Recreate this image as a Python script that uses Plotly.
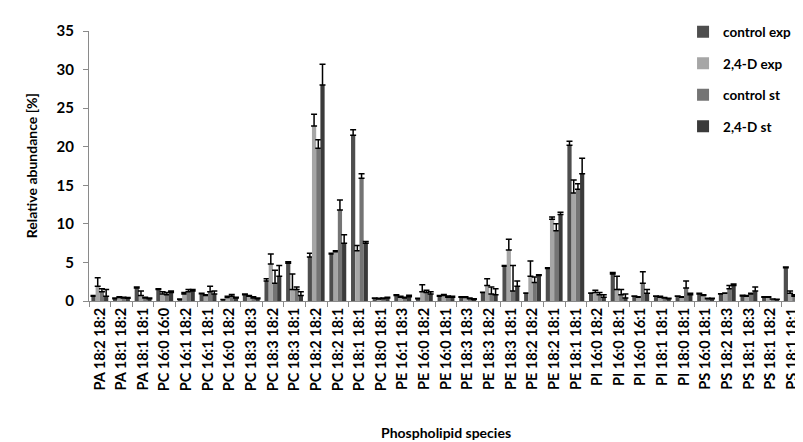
import plotly.graph_objects as go

categories = ["PA 18:2 18:2", "PA 18:1 18:2", "PA 18:1 18:1", "PC 16:0 16:0", "PC 16:1 18:2",
              "PC 16:1 18:1", "PC 16:0 18:2", "PC 18:3 18:3", "PC 18:3 18:2", "PC 18:3 18:1",
              "PC 18:2 18:2", "PC 18:2 18:1", "PC 18:1 18:1", "PC 18:0 18:1", "PE 16:1 18:3",
              "PE 16:0 18:2", "PE 16:0 18:1", "PE 18:3 18:3", "PE 18:3 18:2", "PE 18:3 18:1",
              "PE 18:2 18:2", "PE 18:2 18:1", "PE 18:1 18:1", "PI 16:0 18:2", "PI 16:0 18:1",
              "PI 16:0 16:1", "PI 18:1 18:1", "PI 18:0 18:1", "PS 16:0 18:1", "PS 18:2 18:3",
              "PS 18:1 18:3", "PS 18:1 18:2", "PS 18:1 18:1"]

control_exp = [0.6, 0.3, 1.7, 1.5, 0.2, 0.95, 0.15, 0.8, 2.6, 4.9, 5.7, 6.1, 21.5, 0.35, 0.7, 0.3, 0.6,
               0.5, 1.1, 4.5, 1.0, 4.2, 20.2, 1.0, 3.5, 0.6, 0.6, 0.6, 0.9, 0.9, 0.65, 0.5, 4.3]
control_exp_err = [0.1, 0.1, 0.1, 0.1, 0.05, 0.05, 0.05, 0.1, 0.3, 0.2, 0.5, 0.1, 0.7, 0.05, 0.1, 0.05, 0.1,
                   0.05, 0.05, 0.1, 0.05, 0.1, 0.5, 0.05, 0.2, 0.05, 0.05, 0.05, 0.1, 0.05, 0.1, 0.05, 0.1]

d_exp = [1.9, 0.45, 0.7, 0.9, 0.9, 0.7, 0.45, 0.6, 4.8, 1.5, 22.7, 6.4, 6.5, 0.25, 0.5, 1.2, 0.7,
         0.45, 2.0, 6.6, 3.2, 10.6, 14.0, 1.1, 1.5, 0.5, 0.5, 0.5, 0.7, 1.0, 0.6, 0.5, 1.0]
d_exp_err = [1.1, 0.1, 0.6, 0.3, 0.2, 0.1, 0.15, 0.1, 1.3, 2.0, 1.5, 0.1, 0.7, 0.1, 0.1, 0.9, 0.15,
             0.1, 0.9, 1.4, 2.0, 0.3, 1.7, 0.3, 1.7, 0.05, 0.1, 0.05, 0.1, 0.05, 0.1, 0.05, 0.3]

control_st = [1.2, 0.4, 0.4, 0.8, 1.2, 1.2, 0.6, 0.4, 2.3, 1.5, 19.8, 11.8, 15.9, 0.3, 0.4, 1.1, 0.5,
              0.3, 0.9, 1.3, 2.4, 9.1, 14.5, 0.8, 0.8, 2.3, 0.4, 1.7, 0.3, 1.6, 0.9, 0.25, 0.6]
control_st_err = [0.4, 0.1, 0.1, 0.3, 0.3, 0.7, 0.25, 0.15, 1.7, 0.3, 1.1, 1.3, 0.6, 0.1, 0.1, 0.3, 0.15,
                  0.1, 0.9, 3.3, 0.7, 0.9, 0.7, 0.3, 0.7, 1.5, 0.05, 0.9, 0.05, 0.4, 0.1, 0.02, 0.2]

d_st = [0.6, 0.35, 0.3, 1.1, 1.3, 0.9, 0.4, 0.3, 3.2, 0.7, 28.0, 7.5, 7.5, 0.4, 0.55, 0.9, 0.5,
        0.2, 0.8, 1.9, 3.3, 11.2, 16.5, 0.5, 0.4, 1.0, 0.3, 0.8, 0.3, 2.0, 1.3, 0.2, 0.4]
d_st_err = [0.9, 0.1, 0.1, 0.2, 0.2, 0.4, 0.1, 0.1, 1.4, 0.5, 2.7, 1.1, 0.2, 0.1, 0.2, 0.3, 0.1,
            0.1, 0.8, 0.7, 0.1, 0.3, 2.0, 0.3, 0.5, 0.5, 0.05, 0.2, 0.05, 0.2, 0.5, 0.02, 0.2]

series_names = ["control exp", "2,4-D exp", "control st", "2,4-D st"]
series_colors = ["#4e4e4e", "#a6a6a6", "#747474", "#3a3a3a"]
series_values = [control_exp, d_exp, control_st, d_st]
series_errors = [control_exp_err, d_exp_err, control_st_err, d_st_err]

FONT = "Lato"
fig = go.Figure()
for name, vals, errs, col in zip(series_names, series_values, series_errors, series_colors):
    fig.add_trace(go.Bar(
        x=categories, y=vals, name=name, legendgroup=name,
        marker=dict(color=col, line=dict(width=0)),
        error_y=dict(type="data", array=errs, arrayminus=[0] * len(errs), symmetric=False,
                     color="black", thickness=1.5, width=3),
    ))

axis_line = "#8a8a8a"
fig.update_layout(
    width=803, height=442,
    margin=dict(l=81, r=8, t=15, b=149),
    paper_bgcolor="white", plot_bgcolor="white",
    font=dict(family=FONT, color="black"),
    barmode="group", bargap=0.22, bargroupgap=0,
    showlegend=True,
    legend=dict(x=0.832, y=1.054, xanchor="left", yanchor="top",
                font=dict(family=FONT, size=13.5, weight="bold", color="black"),
                traceorder="grouped", tracegroupgap=11, bgcolor="rgba(0,0,0,0)"),
    xaxis=dict(showline=True, linecolor=axis_line, linewidth=1, ticks="outside",
               tickson="boundaries", ticklen=5, tickcolor=axis_line, tickangle=-90,
               tickfont=dict(family=FONT, size=14.5, weight="bold", color="black"),
               showgrid=False, zeroline=False),
    yaxis=dict(range=[0, 35], dtick=5, showline=True, linecolor=axis_line, linewidth=1,
               ticks="outside", ticklen=5, tickcolor=axis_line, ticklabelstandoff=6,
               tickfont=dict(family=FONT, size=15, weight="bold", color="black"),
               showgrid=False, zeroline=False),
    annotations=[
        dict(text="Relative abundance [%]", xref="paper", yref="paper", x=-0.081, y=0.5,
             xanchor="center", yanchor="middle", textangle=-90, showarrow=False,
             font=dict(family=FONT, size=14, weight="bold", color="black")),
        dict(text="Phospholipid species", xref="paper", yref="paper", x=0.5, y=-0.4875,
             xanchor="center", yanchor="middle", showarrow=False,
             font=dict(family=FONT, size=14, weight="bold", color="black")),
    ],
)

fig.write_html("out.html")
